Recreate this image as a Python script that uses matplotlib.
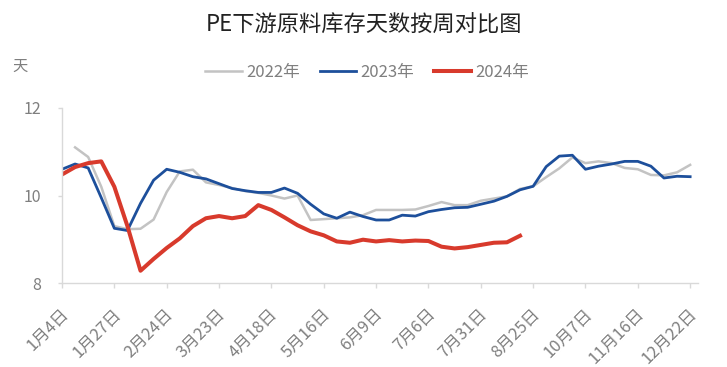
import matplotlib
matplotlib.use("Agg")
import matplotlib.pyplot as plt
import matplotlib.transforms as mtransforms
import numpy as np

plt.rcParams['font.family'] = ['Noto Sans CJK SC', 'DejaVu Sans']

tick_labels = ['1月4日', '1月27日', '2月24日', '3月23日', '4月18日', '5月16日', '6月9日',
               '7月6日', '7月31日', '8月25日', '10月7日', '11月16日', '12月22日']

y2022 = [None, 11.10, 10.88, 10.20, 9.30, 9.23, 9.24, 9.45, 10.08, 10.55,
         10.59, 10.30, 10.24, 10.17, 10.10, 10.06, 10.00, 9.93, 10.00, 9.44,
         9.46, 9.48, 9.50, 9.55, 9.67, 9.67, 9.67, 9.68, 9.76, 9.85,
         9.78, 9.78, 9.88, 9.93, 9.98, 10.15, 10.21, 10.42, 10.62, 10.87,
         10.74, 10.78, 10.74, 10.63, 10.60, 10.47, 10.46, 10.53, 10.70]
y2023 = [10.60, 10.72, 10.63, 9.95, 9.25, 9.20, 9.82, 10.35, 10.60, 10.53,
         10.43, 10.38, 10.27, 10.16, 10.11, 10.07, 10.07, 10.17, 10.05, 9.80,
         9.58, 9.48, 9.62, 9.52, 9.44, 9.44, 9.55, 9.53, 9.63, 9.68,
         9.72, 9.73, 9.80, 9.87, 9.98, 10.13, 10.21, 10.66, 10.90, 10.92,
         10.60, 10.67, 10.72, 10.78, 10.78, 10.67, 10.40, 10.44, 10.43]
y2024 = [10.48, 10.65, 10.74, 10.78, 10.20, 9.30, 8.28, 8.55, 8.80, 9.02,
         9.30, 9.48, 9.53, 9.48, 9.53, 9.78, 9.67, 9.50, 9.32, 9.18,
         9.09, 8.95, 8.92, 8.99, 8.95, 8.98, 8.95, 8.97, 8.96, 8.83,
         8.79, 8.82, 8.87, 8.92, 8.93, 9.08]

def arr(v):
    return np.array([np.nan if a is None else a for a in v], dtype=float)

fig = plt.figure(figsize=(7.27, 3.67), dpi=100)
ax = fig.add_axes([62/727, 1-283/367, (698-62)/727, (283-108)/367])

c_gray = '#C3C3C3'
c_blue = '#1D4F9B'
c_red = '#D83A2C'

ax.plot(np.arange(len(y2022)), arr(y2022), color=c_gray, lw=1.8, label='2022年',
        solid_joinstyle='round')
ax.plot(np.arange(len(y2023)), arr(y2023), color=c_blue, lw=2.0, label='2023年',
        solid_joinstyle='round')
ax.plot(np.arange(len(y2024)), arr(y2024), color=c_red, lw=2.9, label='2024年',
        solid_joinstyle='round')

ax.set_xlim(0, 48.6)
ax.set_ylim(8, 12)
ax.set_yticks([8, 10, 12])
ax.set_yticklabels(['8', '10', '12'])
ax.set_xticks(np.arange(0, 49, 4))
ax.set_xticklabels(tick_labels, rotation=45, ha='right', va='center',
                   rotation_mode='anchor')

for s in ['top', 'right']:
    ax.spines[s].set_visible(False)
for s in ['left', 'bottom']:
    ax.spines[s].set_color('#D9D9D9')
    ax.spines[s].set_linewidth(1.0)

ax.tick_params(axis='x', colors='#D9D9D9', labelcolor='#7F7F7F', length=3.6,
               width=1.0, labelsize=12, pad=17)
ax.tick_params(axis='y', colors='#D9D9D9', labelcolor='#7F7F7F', length=3,
               width=1.0, labelsize=11.5, pad=12)

offset = mtransforms.ScaledTranslation(4/100, 0, fig.dpi_scale_trans)
for lbl in ax.get_xticklabels():
    lbl.set_transform(lbl.get_transform() + offset)

fig.text(20/727, 1-66/367, '天', color='#7F7F7F', fontsize=11,
         ha='center', va='center')
fig.text(364/727, 1-25/367, 'PE下游原料库存天数按周对比图', color='#222222',
         fontsize=16, ha='center', va='center')

leg = fig.legend(loc='center', bbox_to_anchor=(367/727, 1-72/367), ncol=3,
                 frameon=False, fontsize=12, handlelength=2.2,
                 handletextpad=0.25, columnspacing=1.2)
for t in leg.get_texts():
    t.set_color('#7F7F7F')

fig.savefig('out.png', dpi=100)
